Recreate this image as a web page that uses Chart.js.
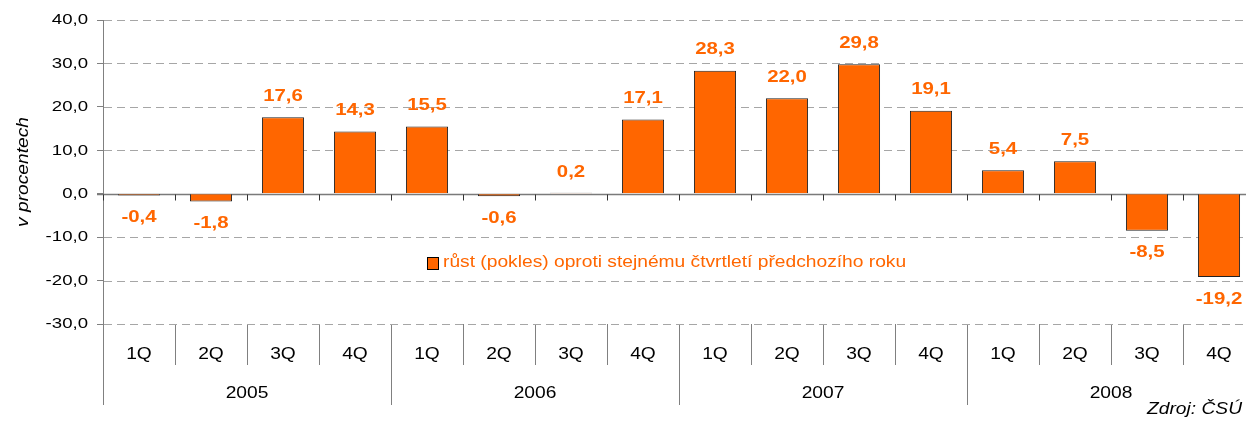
<!DOCTYPE html>
<html>
<head>
<meta charset="utf-8">
<script src="https://cdn.jsdelivr.net/npm/chart.js@4/dist/chart.umd.min.js"></script>
<style>
html,body{margin:0;padding:0;background:#fff;overflow:hidden;}
#wrap{width:1246px;height:421px;position:relative;overflow:hidden;}
</style>
</head>
<body>
<div id="wrap"><canvas id="c" width="1255" height="421"></canvas></div>
<script>
const quarters = ['1Q','2Q','3Q','4Q','1Q','2Q','3Q','4Q','1Q','2Q','3Q','4Q','1Q','2Q','3Q','4Q'];
const years = ['2005','2006','2007','2008'];
const growth = [-0.4,-1.8,17.6,14.3,15.5,-0.6,0.2,17.1,28.3,22.0,29.8,19.1,5.4,7.5,-8.5,-19.2];
const seriesName = 'růst (pokles) oproti stejnému čtvrtletí předchozího roku';
const yTitle = 'v procentech';
const sourceNote = 'Zdroj: ČSÚ';

const FONT = "'Liberation Sans', Arial, sans-serif";
const ORANGE = '#FF6600';
const STRETCH = 1.2;
const fmt = v => v.toFixed(1).replace('.', ',');

Chart.defaults.font.family = FONT;
Chart.defaults.color = '#000';

// text in the reference is horizontally widened along its baseline
const canvas = document.getElementById('c');
const c2d = canvas.getContext('2d');
const origFillText = c2d.fillText;
c2d.fillText = function(t, x, y, maxW) {
  this.save();
  this.translate(x, y);
  this.scale(STRETCH, 1);
  if (maxW === undefined) origFillText.call(this, t, 0, 0);
  else origFillText.call(this, t, 0, 0, maxW / STRETCH);
  this.restore();
};

const overlay = {
  id: 'overlay',
  beforeDatasetsDraw(chart) {
    const {ctx, scales: {x, y}, chartArea} = chart;
    ctx.save();
    // dashed horizontal grid
    ctx.strokeStyle = '#a6a6a6';
    ctx.lineWidth = 1;
    ctx.setLineDash([8, 5]);
    ctx.beginPath();
    y.ticks.forEach(t => {
      if (t.value === 0) return;
      const py = Math.round(y.getPixelForValue(t.value)) + 0.5;
      ctx.moveTo(chartArea.left + 1, py);
      ctx.lineTo(chartArea.right, py);
    });
    ctx.stroke();
    ctx.setLineDash([]);
    // zero line
    const y0 = Math.round(y.getPixelForValue(0)) + 0.5;
    ctx.strokeStyle = '#7a7a7a';
    ctx.lineWidth = 1.5;
    ctx.beginPath();
    ctx.moveTo(chartArea.left - 6, y0);
    ctx.lineTo(chartArea.right, y0);
    ctx.stroke();
    const half = (x.getPixelForValue(1) - x.getPixelForValue(0)) / 2;
    ctx.strokeStyle = '#333';
    ctx.lineWidth = 1;
    ctx.beginPath();
    for (let i = 0; i <= quarters.length; i++) {
      const bx = Math.round(x.getPixelForValue(i) - half) + 0.5;
      ctx.moveTo(bx, y0);
      ctx.lineTo(bx, y0 + 6);
    }
    ctx.stroke();
    ctx.restore();
  },
  afterDatasetsDraw(chart) {
    const {ctx} = chart;
    const meta = chart.getDatasetMeta(0);
    const data = chart.data.datasets[0].data;
    ctx.save();
    ctx.fillStyle = ORANGE;
    ctx.font = "bold 17px " + FONT;
    ctx.textAlign = 'center';
    ctx.textBaseline = 'middle';
    meta.data.forEach((el, i) => {
      const v = data[i];
      const ty = v >= 0 ? el.y - 21 : el.y + 22;
      ctx.fillText(fmt(v), el.x, ty);
    });
    ctx.restore();
  },
  afterDraw(chart) {
    const {ctx} = chart;
    ctx.save();
    // legend
    ctx.fillStyle = ORANGE;
    ctx.strokeStyle = '#000';
    ctx.lineWidth = 1;
    ctx.fillRect(427.5, 257.5, 11, 12);
    ctx.strokeRect(427.5, 257.5, 11, 12);
    ctx.font = "16px " + FONT;
    ctx.textAlign = 'left';
    ctx.textBaseline = 'middle';
    ctx.fillText(chart.data.datasets[0].label, 443, 263);
    // source
    ctx.fillStyle = '#000';
    ctx.font = "italic 16px " + FONT;
    ctx.textAlign = 'right';
    ctx.fillText(sourceNote, 1242, 410);
    ctx.restore();
  }
};

new Chart(canvas, {
  type: 'bar',
  data: {
    labels: quarters,
    datasets: [{
      label: seriesName,
      data: growth,
      backgroundColor: ORANGE,
      borderColor: '#222',
      borderWidth: 1,
      barPercentage: 0.585,
      categoryPercentage: 1.0
    }]
  },
  options: {
    responsive: false,
    animation: false,
    events: [],
    layout: {padding: {top: 20, left: 0, right: 0, bottom: 16}},
    plugins: {legend: {display: false}, tooltip: {enabled: false}},
    scales: {
      x: {
        type: 'category',
        position: 'bottom',
        offset: true,
        grid: {offset: true, drawOnChartArea: false, drawTicks: true, tickLength: 41, color: '#808080', tickColor: '#808080', lineWidth: 1},
        border: {display: false},
        ticks: {autoSkip: false, maxRotation: 0, minRotation: 0, padding: -20, font: {size: 16}, color: '#000'},
        afterFit(s) { s.height = 41; }
      },
      x2: {
        type: 'category',
        position: 'bottom',
        labels: years,
        offset: true,
        grid: {offset: true, drawOnChartArea: false, drawTicks: true, tickLength: 40, color: '#808080', tickColor: '#808080', lineWidth: 1},
        border: {display: false},
        ticks: {autoSkip: false, maxRotation: 0, minRotation: 0, padding: -21, font: {size: 16}, color: '#000'},
        afterFit(s) { s.height = 40; }
      },
      y: {
        min: -30,
        max: 40,
        ticks: {stepSize: 10, padding: 9, font: {size: 15.5}, color: '#000', callback: v => fmt(v)},
        grid: {drawOnChartArea: false, drawTicks: true, tickLength: 6, tickColor: '#808080', color: '#808080'},
        border: {display: true, color: '#808080', width: 1},
        title: {display: true, text: yTitle, font: {size: 16, style: 'italic'}, color: '#000', padding: {top: 14, bottom: 0}},
        afterFit(s) { s.width = 103; }
      }
    }
  },
  plugins: [overlay]
});
</script>
</body>
</html>
